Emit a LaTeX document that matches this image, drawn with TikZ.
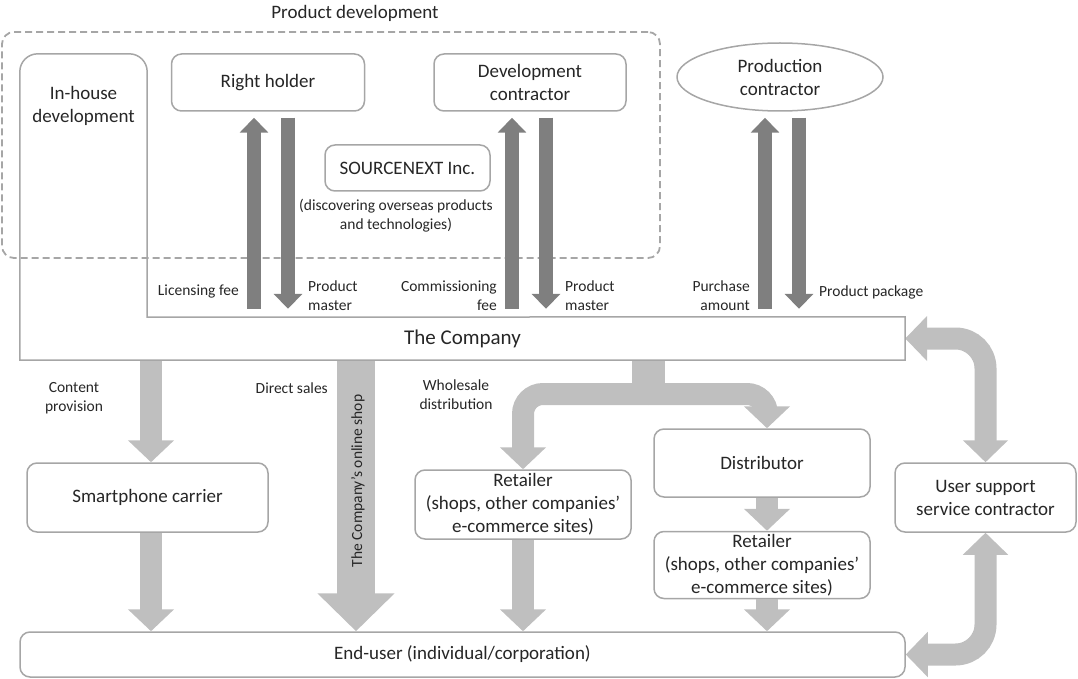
\documentclass[tikz,border=0pt]{standalone}
\usepackage{fontspec}
\setmainfont{Carlito}
\usetikzlibrary{arrows.meta,shapes.geometric}
\definecolor{boxgray}{HTML}{A6A6A6}
\definecolor{darkarr}{HTML}{7F7F7F}
\definecolor{lightarr}{HTML}{BFBFBF}
\definecolor{txtgray}{HTML}{262626}
\newcommand{\boxsize}{\fontsize{19}{23}\selectfont}
\newcommand{\lblsize}{\fontsize{15.5}{19.5}\selectfont}
\tikzset{
  box/.style={rectangle, draw=boxgray, line width=1.5pt, rounded corners=10pt, fill=white, align=center, font=\boxsize, text=txtgray, inner sep=0pt},
  lbl/.style={font=\lblsize, align=center, text=txtgray, inner sep=0pt},
  darr/.style={draw=darkarr, line width=14pt, -{Triangle[width=28pt,length=15pt]}},
  larr/.style={draw=lightarr, line width=22pt, -{Triangle[width=45pt,length=22pt]}},
  larrboth/.style={draw=lightarr, line width=22pt, {Triangle[width=44pt,length=22pt]}-{Triangle[width=44pt,length=22pt]}},
}
\begin{document}
\begin{tikzpicture}[x=1pt, y=-1pt]
\useasboundingbox (0,0) rectangle (1078,679);

% product development
\node[draw=boxgray, line width=1.8pt, dash pattern=on 7pt off 4pt, rounded corners=12pt, minimum width=658pt, minimum height=226pt] (devgroup) at (331,145) {};
\node[font=\boxsize, text=txtgray] (devtitle) at (355,13) {Product development};

\node[box, minimum width=193pt, minimum height=57pt] (holder) at (268,82.5) {Right holder};
\node[box, minimum width=192pt, minimum height=57pt] (devcon) at (530,82.5) {Development\\contractor};
\node[box, ellipse, minimum width=206pt, minimum height=68pt] (prodcon) at (780,77) {Production\\contractor};
\node[box, minimum width=165pt, minimum height=46pt] (srcnext) at (407.5,168) {SOURCENEXT Inc.};
\node[lbl] (srcnote) at (396,215.5) {(discovering overseas products\\and technologies)};

% the company and in-house development
\node[minimum width=127pt, minimum height=263pt, inner sep=0pt] (inhouse) at (83.5,185.5) {};
\node[font=\boxsize, text=txtgray, align=center] (inhousetxt) at (83.5,105.5) {In-house\\development};
\node[minimum width=885pt, minimum height=43pt, inner sep=0pt, text=txtgray, font=\fontsize{21}{25}\selectfont] (company) at (462.5,338.5) {The Company};

% sales side
\node[box, minimum width=241pt, minimum height=69pt] (carrier) at (147.5,497.5) {Smartphone carrier};
\node[box, minimum width=216pt, minimum height=69pt] (retail1) at (523,504.5) {Retailer\\(shops, other companies’\\e-commerce sites)};
\node[box, minimum width=216pt, minimum height=68pt] (distrib) at (762,463) {Distributor};
\node[box, minimum width=216pt, minimum height=67pt] (retail2) at (762,565) {Retailer\\(shops, other companies’\\e-commerce sites)};
\node[box, minimum width=181pt, minimum height=69pt] (support) at (985.5,497.5) {User support\\service contractor};
\node[box, minimum width=885pt, minimum height=45pt] (enduser) at (462.5,654.5) {End-user (individual/corporation)};

\coordinate (licx) at (254,0);
\coordinate (mas1x) at (288,0);
\coordinate (comx) at (512,0);
\coordinate (mas2x) at (546,0);
\coordinate (purx) at (765,0);
\coordinate (pkgx) at (799,0);
\coordinate (contx) at (151,0);
\coordinate (dirx) at (356,0);
\coordinate (dstx) at (767,0);
\coordinate (whsplit) at (648,394);

% money up, goods down
\draw[darr, shorten <=8pt, shorten >=6pt] (company.north -| licx) -- (holder.south -| licx);
\draw[darr, shorten <=6pt, shorten >=8pt] (holder.south -| mas1x) -- (company.north -| mas1x);
\draw[darr, shorten <=8pt, shorten >=6pt] (company.north -| comx) -- (devcon.south -| comx);
\draw[darr, shorten <=6pt, shorten >=8pt] (devcon.south -| mas2x) -- (company.north -| mas2x);
\draw[darr, shorten <=8pt, shorten >=6pt] (company.north -| purx) -- (prodcon.south -| purx);
\draw[darr, shorten <=6pt, shorten >=8pt] (prodcon.south -| pkgx) -- (company.north -| pkgx);

\node[lbl, anchor=east] (licfee) at (239,291) {Licensing fee};
\node[lbl, anchor=west, align=left] (master1) at (308,295.5) {Product\\master};
\node[lbl, anchor=east, align=right] (comfee) at (497,295.5) {Commissioning\\fee};
\node[lbl, anchor=west, align=left] (master2) at (565,295.5) {Product\\master};
\node[lbl, anchor=east, align=right] (puramt) at (750,295.5) {Purchase\\amount};
\node[lbl, anchor=west] (prodpkg) at (819,292) {Product package};

% distribution
\draw[larr] (company.south -| contx) -- (carrier.north -| contx);
\draw[larr] (carrier.south -| contx) -- (enduser.north -| contx);
\draw[draw=lightarr, line width=38pt, -{Triangle[width=75pt,length=38pt]}] (company.south -| dirx) -- (enduser.north -| dirx);
\draw[draw=lightarr, line width=33pt] (company.south -| whsplit) -- (whsplit);
\draw[larr, rounded corners=20pt] (whsplit) -| (retail1.north);
\draw[larr, rounded corners=20pt] (whsplit) -| (distrib.north -| dstx);
\draw[larr] (retail1.south) -- (enduser.north -| retail1.south);
\draw[larr] (distrib.south -| dstx) -- (retail2.north -| dstx);
\draw[larr] (retail2.south -| dstx) -- (enduser.north -| dstx);
\draw[larrboth, rounded corners=30pt] (company.east) -| (support.north);
\draw[larrboth, rounded corners=30pt] (support.south) |- (enduser.east);

\node[lbl] (contprov) at (74,398) {Content\\provision};
\node[lbl, anchor=east] (dirsales) at (328,388) {Direct sales};
\node[lbl] (wholesale) at (456,394.5) {Wholesale\\distribution};
\node[lbl, rotate=90] (shop) at (358,481) {The Company’s online shop};

\draw[draw=boxgray, line width=1.5pt] (company.south west) -- ([yshift=-18pt]inhouse.north west) arc[start angle=180, end angle=90, radius=18pt] -- ([xshift=-18pt]inhouse.north east) arc[start angle=90, end angle=0, radius=18pt] -- (inhouse.south east) -- (company.north east) -- (company.south east) -- cycle;
\end{tikzpicture}
\end{document}
